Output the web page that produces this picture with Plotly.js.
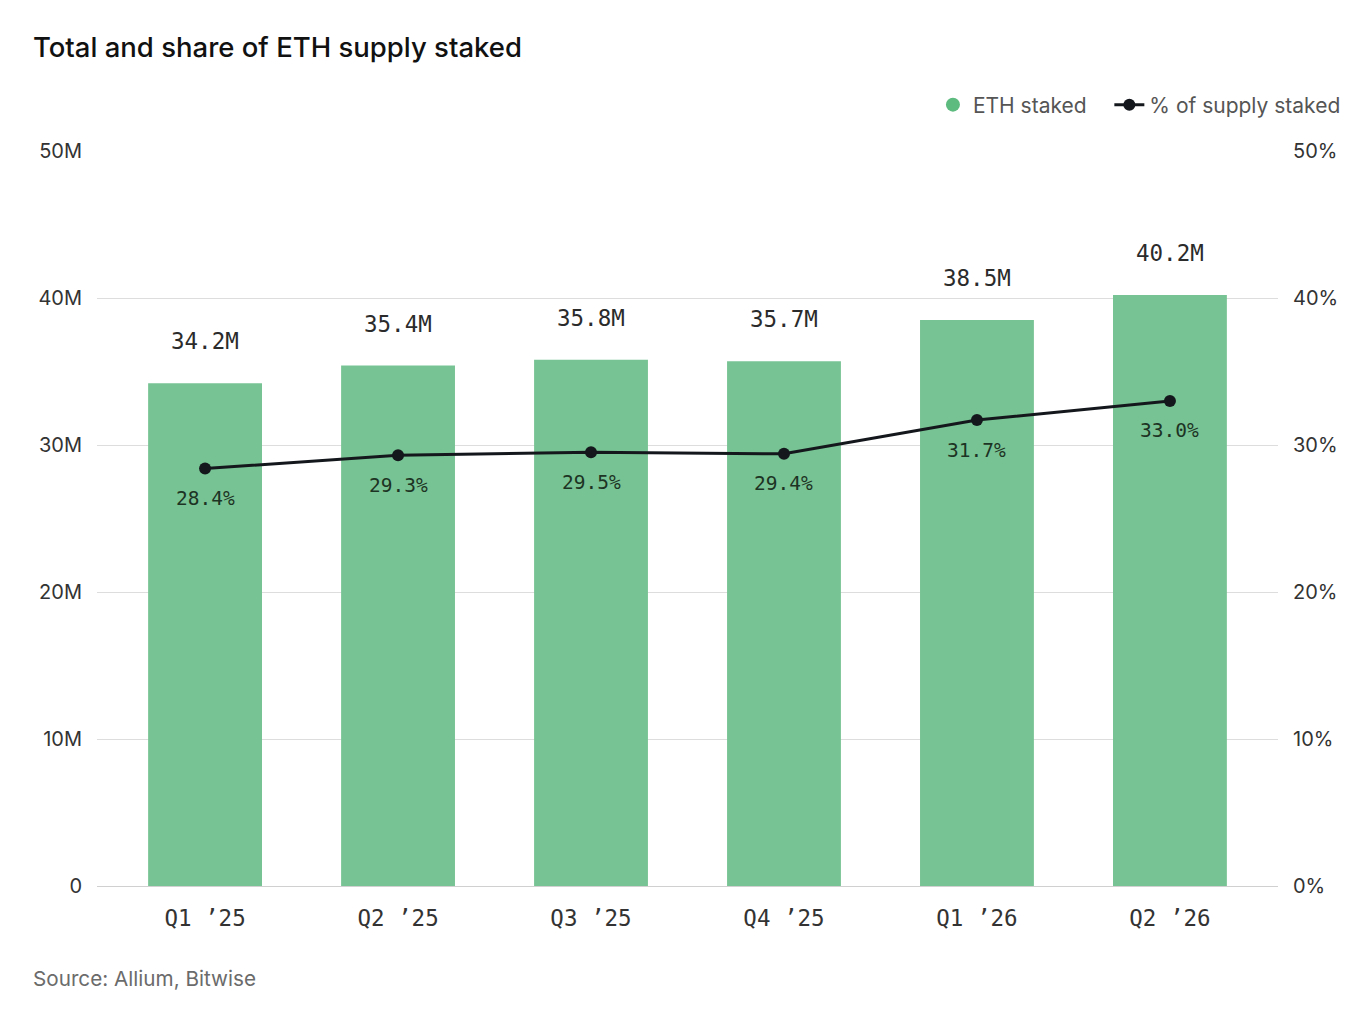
<!DOCTYPE html>
<html>
<head>
<meta charset="utf-8">
<script src="https://cdn.plot.ly/plotly-3.0.1.min.js"></script>
<style>html,body{margin:0;padding:0;background:#fff;}#chart{width:1372px;height:1014px;}</style>
</head>
<body>
<div id="chart"></div>
<script>
const categories = ["Q1 \u201925", "Q2 \u201925", "Q3 \u201925", "Q4 \u201925", "Q1 \u201926", "Q2 \u201926"];
const ethStaked = [34.2, 35.4, 35.8, 35.7, 38.5, 40.2];           // millions ETH
const pctStaked = [28.4, 29.3, 29.5, 29.4, 31.7, 33.0];           // percent
const leftTickVals = [0, 10, 20, 30, 40, 50];
const leftTickText = ["0", "10M", "20M", "30M", "40M", "50M"];
const rightTickVals = [0, 10, 20, 30, 40, 50];
const rightTickText = ["0%", "10%", "20%", "30%", "40%", "50%"];

const green = "#77c393";
const dark = "#14181d";
const sans = "Inter, 'Liberation Sans', sans-serif";
const mono = "'DejaVu Sans Mono', monospace";

const traces = [
  {
    type: "bar", x: categories, y: ethStaked, name: "ETH staked",
    marker: {color: green}, showlegend: false, hoverinfo: "skip"
  },
  {
    type: "scatter", mode: "markers", x: [null], y: [null], name: "ETH staked\u00a0\u00a0\u00a0",
    marker: {color: "#5dbb7f", size: 14, symbol: "circle"}, showlegend: true
  },
  {
    type: "scatter", mode: "lines+markers", x: categories, y: pctStaked, yaxis: "y2",
    name: "% of supply staked",
    line: {color: dark, width: 3}, marker: {color: dark, size: 12}
  }
];

const annotations = [];
categories.forEach((c, i) => {
  annotations.push({
    x: c, y: ethStaked[i], xref: "x", yref: "y", text: ethStaked[i].toFixed(1) + "M",
    showarrow: false, yshift: 42, yanchor: "middle",
    font: {family: mono, size: 22.5, color: "#2b2b2b"}
  });
  annotations.push({
    x: c, y: pctStaked[i], xref: "x", yref: "y2", text: pctStaked[i].toFixed(1) + "%",
    showarrow: false, yshift: -30, yanchor: "middle",
    font: {family: mono, size: 19.5, color: "#1d3324"}
  });
});
annotations.push({
  xref: "paper", yref: "paper", x: -0.056, y: -0.1265, xanchor: "left", yanchor: "middle",
  text: "Source: Allium, Bitwise", showarrow: false,
  font: {family: sans, size: 20.7, color: "#6b6b6b"}
});

const layout = {
  width: 1372, height: 1014,
  paper_bgcolor: "#ffffff", plot_bgcolor: "#ffffff",
  margin: {l: 97, r: 94, t: 151, b: 128},
  title: {
    text: "Total and share of ETH supply staked",
    xref: "container", yref: "container", x: 0.024, xanchor: "left",
    y: 1 - 47/1014, yanchor: "middle",
    font: {family: sans, size: 27.5, color: "#111111", weight: 500}
  },
  bargap: 0.41,
  showlegend: true,
  legend: {
    orientation: "h", xref: "container", yref: "container",
    x: 0.981, xanchor: "right", y: 1 - 105/1014, yanchor: "middle",
    font: {family: sans, size: 21, color: "#555555"},
    itemwidth: 30, traceorder: "normal", bgcolor: "rgba(0,0,0,0)"
  },
  xaxis: {
    type: "category", range: [-0.56, 5.56], fixedrange: true,
    showgrid: false, zeroline: false, showline: false, ticks: "",
    ticklabelstandoff: 16,
    tickfont: {family: mono, size: 22.5, color: "#333333"}
  },
  yaxis: {
    range: [0, 50], tickvals: leftTickVals, ticktext: leftTickText,
    showgrid: true, gridcolor: "#dddddd", gridwidth: 1,
    zeroline: true, zerolinecolor: "#d0d0d0", zerolinewidth: 1,
    showline: false, ticks: "", ticklabelstandoff: 14,
    tickfont: {family: sans, size: 20, color: "#333333"}
  },
  yaxis2: {
    range: [0, 50], overlaying: "y", side: "right",
    tickvals: rightTickVals, ticktext: rightTickText,
    showgrid: false, zeroline: false, showline: false, ticks: "", ticklabelstandoff: 14,
    tickfont: {family: sans, size: 20, color: "#333333"}
  },
  annotations: annotations
};

Plotly.newPlot("chart", traces, layout, {displayModeBar: false, staticPlot: true});
</script>
</body>
</html>
